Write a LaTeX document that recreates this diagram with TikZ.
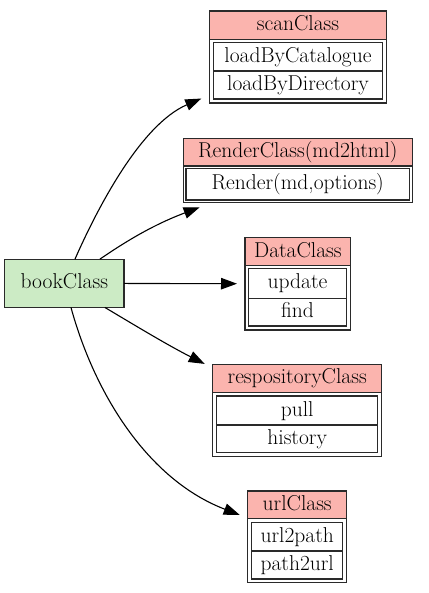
\documentclass[tikz,border=0pt]{standalone}
\usetikzlibrary{arrows.meta}
\definecolor{hdr}{HTML}{FBB4AE}
\definecolor{bk}{HTML}{CCEBC5}
\definecolor{ln}{HTML}{2A2A2A}
\begin{document}
\begin{tikzpicture}[x=1pt,y=-1pt,
  txt/.style={font=\fontsize{21.5}{24}\selectfont, inner sep=0pt, text height=16pt, text depth=5pt, align=center},
  outerbox/.style={draw=ln, line width=1.2pt, inner sep=0pt, outer xsep=8pt, outer ysep=5pt},
  hdrbox/.style={txt, draw=ln, fill=hdr, line width=1.2pt},
  fieldbox/.style={txt, draw=ln, line width=1.2pt},
  bookbox/.style={txt, draw=ln, fill=bk, line width=1.2pt, outer sep=0pt},
  edge/.style={-{Triangle[length=16pt,width=11.5pt]}, line width=1.1pt, black}]
\useasboundingbox (0,0) rectangle (428,593);
% bookClass
\node[bookbox, minimum width=119.3pt, minimum height=48.3pt] (book) at (64.35,283.3) {bookClass};
% scanClass
\node[outerbox, minimum width=177.4pt, minimum height=92pt] (scan) at (298,57) {};
\node[hdrbox, minimum width=177.4pt, minimum height=28.3pt] (scanH) at (298,25.15) {scanClass};
\node[fieldbox, minimum width=169.4pt, minimum height=28.3pt] (scanA) at (298,56.85) {loadByCatalogue};
\node[fieldbox, minimum width=169.4pt, minimum height=28pt] (scanB) at (298,85) {loadByDirectory};
% RenderClass
\node[outerbox, minimum width=229pt, minimum height=64pt] (render) at (297.8,170.3) {};
\node[hdrbox, minimum width=229pt, minimum height=27.7pt] (renderH) at (297.8,152.15) {RenderClass(md2html)};
\node[fieldbox, minimum width=223.3pt, minimum height=31.7pt] (renderA) at (297.7,184.15) {Render(md,options)};
% DataClass
\node[outerbox, minimum width=105.7pt, minimum height=92.3pt] (data) at (297.85,283.85) {};
\node[hdrbox, minimum width=105.7pt, minimum height=28pt] (dataH) at (297.85,251.7) {DataClass};
\node[fieldbox, minimum width=98.4pt, minimum height=30pt] (dataA) at (297.5,283.3) {update};
\node[fieldbox, minimum width=98.4pt, minimum height=27.7pt] (dataB) at (297.5,312.15) {find};
% respositoryClass
\node[outerbox, minimum width=169pt, minimum height=92.4pt] (repo) at (297.2,410.5) {};
\node[hdrbox, minimum width=169pt, minimum height=28pt] (repoH) at (297.2,378.3) {respositoryClass};
\node[fieldbox, minimum width=161pt, minimum height=29pt] (repoA) at (297.2,410.5) {pull};
\node[fieldbox, minimum width=161pt, minimum height=27.7pt] (repoB) at (297.2,438.85) {history};
% urlClass
\node[outerbox, minimum width=99pt, minimum height=91.7pt] (url) at (297.2,536.85) {};
\node[hdrbox, minimum width=99pt, minimum height=27.7pt] (urlH) at (297.2,504.85) {urlClass};
\node[fieldbox, minimum width=91pt, minimum height=28.7pt] (urlA) at (297.2,536.65) {url2path};
\node[fieldbox, minimum width=91pt, minimum height=28pt] (urlB) at (297.2,565) {path2url};
% edges
\draw[edge] (book) .. controls (96.3,210.7) and (140,125) .. (scan);
\draw[edge] (book) .. controls (121.4,244.5) and (150,226) .. (render);
\draw[edge] (book) -- (data);
\draw[edge] (book) .. controls (135.7,325.8) and (168.1,345.4) .. (repo);
\draw[edge] (book) .. controls (95,395) and (148.5,480) .. (url);
\end{tikzpicture}
\end{document}
